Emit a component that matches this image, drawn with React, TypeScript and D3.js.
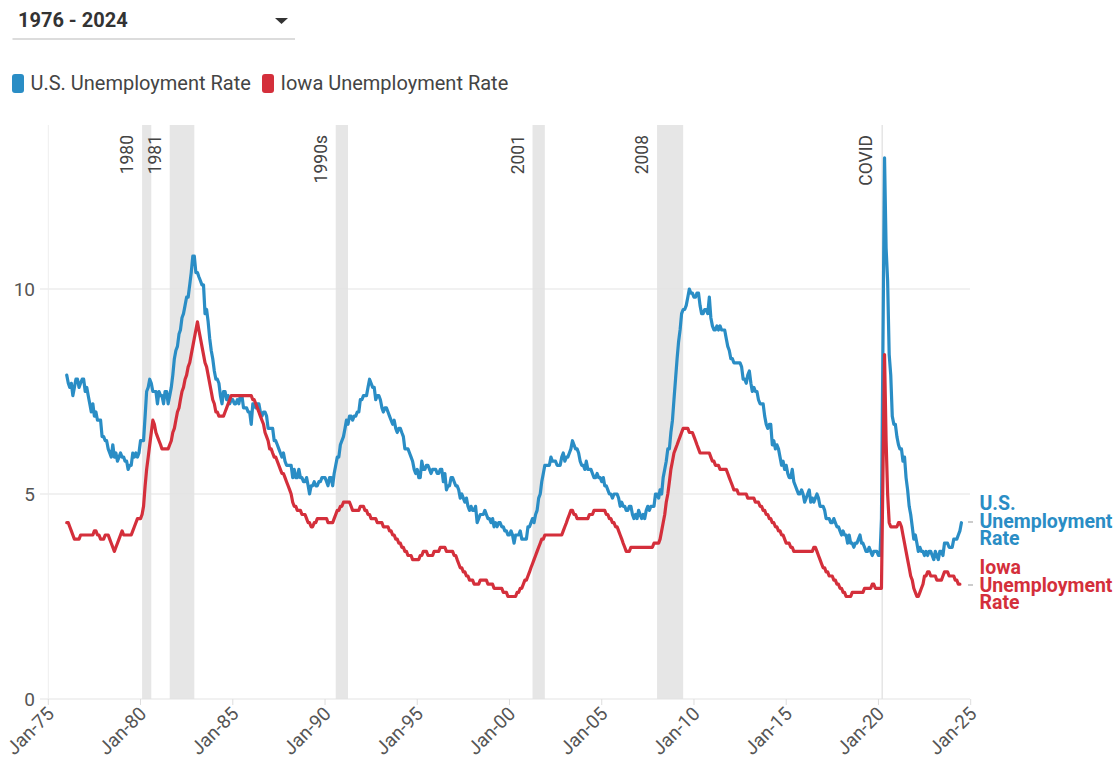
import React from 'react';
import * as d3 from 'd3';

// Monthly unemployment rates (%), one row per year starting in 1976.
// A null marks a month that is not in the series; the line bridges it.
const FIRST_YEAR = 1976;

const usRate: (number | null)[][] = [
  [7.9, 7.7, 7.6, 7.7, 7.4, 7.6, 7.8, 7.8, 7.6, 7.7, 7.8, 7.8], // 1976
  [7.5, 7.6, 7.4, 7.2, 7.0, 7.2, 6.9, 7.0, 6.8, 6.8, 6.8, 6.4],
  [6.4, 6.3, 6.3, 6.1, 6.0, 5.9, 6.2, 5.9, 6.0, 5.8, 5.9, 6.0],
  [5.9, 5.9, 5.8, 5.8, 5.6, 5.7, 5.7, 6.0, 5.9, 6.0, 5.9, 6.0],
  [6.3, 6.3, 6.3, 6.9, 7.5, 7.6, 7.8, 7.7, 7.5, 7.5, 7.5, 7.2], // 1980
  [7.5, 7.4, 7.4, 7.2, 7.5, 7.5, 7.2, 7.4, 7.6, 7.9, 8.3, 8.5],
  [8.6, 8.9, 9.0, 9.3, 9.4, 9.6, 9.8, 9.8, 10.1, 10.4, 10.8, 10.8],
  [10.4, 10.4, 10.3, 10.2, 10.1, 10.1, 9.4, 9.5, 9.2, 8.8, 8.5, 8.3],
  [8.0, 7.8, 7.8, 7.7, 7.4, 7.2, 7.5, 7.5, 7.3, 7.4, 7.2, 7.3],
  [7.3, 7.2, 7.2, 7.3, 7.2, 7.4, 7.4, 7.1, 7.1, 7.1, 7.0, 7.0], // 1985
  [6.7, 7.2, 7.2, 7.1, 7.2, 7.2, 7.0, 6.9, 7.0, 7.0, 6.9, 6.6],
  [6.6, 6.6, 6.6, 6.3, 6.3, 6.2, 6.1, 6.0, 5.9, 6.0, 5.8, 5.7],
  [5.7, 5.7, 5.7, 5.4, 5.6, 5.4, 5.4, 5.6, 5.4, 5.4, 5.3, 5.3],
  [5.4, 5.2, 5.0, 5.2, 5.2, 5.3, 5.2, 5.2, 5.3, 5.3, 5.4, 5.4],
  [5.4, 5.3, 5.2, 5.4, 5.4, 5.2, 5.5, 5.7, 5.9, 5.9, 6.2, 6.3], // 1990
  [6.4, 6.6, 6.8, 6.7, 6.9, 6.9, 6.8, 6.9, 6.9, 7.0, 7.0, 7.3],
  [7.3, 7.4, 7.4, 7.4, 7.6, 7.8, 7.7, 7.6, 7.6, 7.3, 7.4, 7.4],
  [7.3, 7.1, 7.0, 7.1, 7.1, 7.0, 6.9, 6.8, 6.7, 6.8, 6.6, 6.5],
  [6.6, 6.6, 6.5, 6.4, 6.1, 6.1, 6.1, 6.0, 5.9, 5.8, 5.6, 5.5],
  [5.6, 5.4, 5.4, 5.8, 5.6, 5.6, 5.7, 5.7, 5.6, 5.5, 5.6, 5.6], // 1995
  [5.6, 5.5, 5.5, 5.6, 5.6, 5.3, 5.5, 5.1, 5.2, 5.2, 5.4, 5.4],
  [5.3, 5.2, 5.2, 5.1, 4.9, 5.0, 4.9, 4.8, 4.9, 4.7, 4.6, 4.7],
  [4.6, 4.6, 4.7, 4.3, 4.4, 4.5, 4.5, 4.5, 4.6, 4.5, 4.4, 4.4],
  [4.3, 4.4, 4.2, 4.3, 4.2, 4.3, 4.3, 4.2, 4.2, 4.1, 4.1, 4.0],
  [4.0, 4.1, 4.0, 3.8, 4.0, 4.0, 4.0, 4.1, 3.9, 3.9, 3.9, 3.9], // 2000
  [4.2, 4.2, 4.3, 4.4, 4.3, 4.5, 4.6, 4.9, 5.0, 5.3, 5.5, 5.7],
  [5.7, 5.7, 5.7, 5.9, 5.8, 5.8, 5.8, 5.7, 5.7, 5.7, 5.9, 6.0],
  [5.8, 5.9, 5.9, 6.0, 6.1, 6.3, 6.2, 6.1, 6.1, 6.0, 5.8, 5.7],
  [5.7, 5.6, 5.8, 5.6, 5.6, 5.6, 5.5, 5.4, 5.4, 5.5, 5.4, 5.4],
  [5.3, 5.4, 5.2, 5.2, 5.1, 5.0, 5.0, 4.9, 5.0, 5.0, 5.0, 4.9], // 2005
  [4.7, 4.8, 4.7, 4.7, 4.6, 4.6, 4.7, 4.7, 4.5, 4.4, 4.5, 4.4],
  [4.6, 4.5, 4.4, 4.5, 4.4, 4.6, 4.7, 4.6, 4.7, 4.7, 4.7, 5.0],
  [5.0, 4.9, 5.1, 5.0, 5.4, 5.6, 5.8, 6.1, 6.1, 6.5, 6.8, 7.3],
  [7.8, 8.3, 8.7, 9.0, 9.4, 9.5, 9.5, 9.6, 9.8, 10.0, 9.9, 9.9],
  [9.8, 9.8, 9.9, 9.9, 9.6, 9.4, 9.4, 9.5, 9.5, 9.4, 9.8, 9.3], // 2010
  [9.1, 9.0, 9.0, 9.1, 9.0, 9.1, 9.0, 9.0, 9.0, 8.8, 8.6, 8.5],
  [8.3, 8.3, 8.2, 8.2, 8.2, 8.2, 8.2, 8.1, 7.8, 7.8, 7.7, 7.9],
  [8.0, 7.7, 7.5, 7.6, 7.5, 7.5, 7.3, 7.2, 7.2, 7.2, 6.9, 6.7],
  [6.6, 6.7, 6.7, 6.2, 6.3, 6.1, 6.2, 6.1, 5.9, 5.7, 5.8, 5.6],
  [5.7, 5.5, 5.4, 5.4, 5.6, 5.3, 5.2, 5.1, 5.0, 5.0, 5.1, 5.0], // 2015
  [4.8, 4.9, 5.0, 5.1, 4.8, 4.9, 4.8, 4.9, 5.0, 4.9, 4.7, 4.7],
  [4.7, 4.6, 4.4, 4.4, 4.4, 4.3, 4.3, 4.4, 4.3, 4.2, 4.2, 4.1],
  [4.0, 4.1, 4.0, 4.0, 3.8, 4.0, 3.8, 3.8, 3.7, 3.8, 3.8, 3.9],
  [4.0, 3.8, 3.8, 3.7, 3.6, 3.6, 3.7, 3.6, 3.5, 3.6, 3.6, 3.6],
  [3.5, 3.5, 4.4, null, 13.2, 11.0, 10.2, 8.4, 7.9, 6.9, 6.7, 6.7], // 2020
  [6.4, 6.2, 6.1, 6.1, 5.8, 5.9, 5.4, 5.1, 4.7, 4.5, 4.2, 3.9],
  [4.0, 3.8, 3.6, 3.7, 3.6, 3.6, 3.5, 3.6, 3.5, 3.6, 3.6, 3.5],
  [3.4, 3.6, 3.5, 3.4, 3.6, 3.6, 3.5, 3.8, 3.8, 3.8, 3.7, 3.7],
  [3.7, 3.9, 3.9, 3.9, 4.0, 4.1, 4.3], // 2024
];

const iowaRate: (number | null)[][] = [
  [4.3, 4.3, 4.2, 4.1, 4.0, 3.9, 3.9, 3.9, 3.9, 4.0, 4.0, 4.0], // 1976
  [4.0, 4.0, 4.0, 4.0, 4.0, 4.0, 4.1, 4.1, 4.0, 4.0, 3.9, 3.9],
  [3.9, 4.0, 4.0, 4.0, 3.9, 3.8, 3.7, 3.6, 3.7, 3.8, 3.9, 4.0],
  [4.1, 4.0, 4.0, 4.0, 4.0, 4.0, 4.0, 4.1, 4.2, 4.3, 4.4, 4.4],
  [4.4, 4.5, 4.7, 5.2, 5.6, 5.9, 6.2, 6.5, 6.8, 6.7, 6.5, 6.4], // 1980
  [6.3, 6.2, 6.1, 6.1, 6.1, 6.1, 6.1, 6.2, 6.3, 6.5, 6.6, 6.8],
  [7.0, 7.1, 7.3, 7.5, 7.6, 7.8, 7.9, 8.1, 8.2, 8.4, 8.6, 8.8],
  [9.0, 9.2, 9.0, 8.8, 8.6, 8.4, 8.2, 8.1, 7.9, 7.7, 7.5, 7.3],
  [7.2, 7.0, 7.0, 6.9, 6.9, 6.9, 6.9, 7.0, 7.1, 7.2, 7.3, 7.4],
  [7.4, 7.4, 7.4, 7.4, 7.4, 7.4, 7.4, 7.4, 7.4, 7.4, 7.4, 7.4], // 1985
  [7.4, 7.3, 7.3, 7.2, 7.1, 7.0, 6.9, 6.8, 6.7, 6.5, 6.4, 6.3],
  [6.1, 6.1, 6.0, 5.9, 5.9, 5.8, 5.7, 5.6, 5.5, 5.5, 5.4, 5.3],
  [5.2, 5.1, 5.0, 4.8, 4.7, 4.7, 4.6, 4.6, 4.6, 4.5, 4.5, 4.5],
  [4.4, 4.3, 4.3, 4.2, 4.2, 4.3, 4.3, 4.4, 4.4, 4.4, 4.4, 4.4],
  [4.4, 4.4, 4.3, 4.3, 4.3, 4.3, 4.4, 4.5, 4.6, 4.6, 4.7, 4.7], // 1990
  [4.8, 4.8, 4.8, 4.8, 4.8, 4.7, 4.6, 4.6, 4.6, 4.6, 4.6, 4.7],
  [4.7, 4.7, 4.6, 4.6, 4.5, 4.5, 4.4, 4.4, 4.4, 4.4, 4.3, 4.3],
  [4.3, 4.3, 4.2, 4.2, 4.2, 4.2, 4.1, 4.1, 4.0, 4.0, 3.9, 3.9],
  [3.8, 3.8, 3.7, 3.7, 3.6, 3.6, 3.5, 3.5, 3.5, 3.4, 3.4, 3.4],
  [3.4, 3.4, 3.5, 3.5, 3.6, 3.6, 3.6, 3.5, 3.5, 3.5, 3.5, 3.6], // 1995
  [3.6, 3.6, 3.6, 3.7, 3.7, 3.7, 3.7, 3.6, 3.6, 3.6, 3.6, 3.6],
  [3.5, 3.5, 3.4, 3.3, 3.2, 3.2, 3.1, 3.1, 3.0, 3.0, 2.9, 2.9],
  [2.9, 2.8, 2.8, 2.8, 2.8, 2.9, 2.9, 2.9, 2.9, 2.9, 2.8, 2.8],
  [2.8, 2.8, 2.7, 2.7, 2.7, 2.7, 2.7, 2.7, 2.6, 2.6, 2.6, 2.5],
  [2.5, 2.5, 2.5, 2.5, 2.5, 2.6, 2.6, 2.7, 2.7, 2.8, 2.9, 2.9], // 2000
  [3.0, 3.1, 3.2, 3.3, 3.4, 3.5, 3.6, 3.7, 3.8, 3.9, 3.9, 4.0],
  [4.0, 4.0, 4.0, 4.0, 4.0, 4.0, 4.0, 4.0, 4.0, 4.0, 4.0, 4.1],
  [4.2, 4.3, 4.4, 4.5, 4.6, 4.6, 4.5, 4.5, 4.4, 4.4, 4.4, 4.4],
  [4.4, 4.4, 4.4, 4.4, 4.5, 4.5, 4.5, 4.6, 4.6, 4.6, 4.6, 4.6],
  [4.6, 4.6, 4.6, 4.5, 4.5, 4.4, 4.4, 4.3, 4.3, 4.2, 4.2, 4.1], // 2005
  [4.0, 3.9, 3.8, 3.7, 3.6, 3.6, 3.6, 3.7, 3.7, 3.7, 3.7, 3.7],
  [3.7, 3.7, 3.7, 3.7, 3.7, 3.7, 3.7, 3.7, 3.7, 3.7, 3.8, 3.8],
  [3.8, 3.8, 3.9, 4.1, 4.3, 4.5, 4.8, 5.0, 5.3, 5.6, 5.8, 6.0],
  [6.1, 6.2, 6.3, 6.4, 6.5, 6.6, 6.6, 6.6, 6.6, 6.5, 6.5, 6.5],
  [6.4, 6.3, 6.2, 6.1, 6.0, 6.0, 6.0, 6.0, 6.0, 6.0, 6.0, 5.9], // 2010
  [5.8, 5.8, 5.7, 5.7, 5.7, 5.6, 5.6, 5.6, 5.6, 5.6, 5.5, 5.4],
  [5.3, 5.2, 5.1, 5.1, 5.1, 5.0, 5.0, 5.0, 5.0, 5.0, 5.0, 4.9],
  [4.9, 4.9, 4.9, 4.9, 4.8, 4.8, 4.8, 4.7, 4.7, 4.6, 4.6, 4.5],
  [4.5, 4.4, 4.4, 4.3, 4.3, 4.2, 4.2, 4.1, 4.1, 4.0, 4.0, 3.9],
  [3.8, 3.8, 3.8, 3.7, 3.7, 3.6, 3.6, 3.6, 3.6, 3.6, 3.6, 3.6], // 2015
  [3.6, 3.6, 3.6, 3.6, 3.6, 3.6, 3.7, 3.7, 3.6, 3.5, 3.4, 3.3],
  [3.2, 3.2, 3.1, 3.1, 3.0, 3.0, 3.0, 2.9, 2.9, 2.8, 2.8, 2.7],
  [2.7, 2.6, 2.6, 2.5, 2.5, 2.5, 2.5, 2.6, 2.6, 2.6, 2.6, 2.6],
  [2.6, 2.6, 2.6, 2.7, 2.7, 2.7, 2.7, 2.7, 2.8, 2.8, 2.7, 2.7],
  [2.7, 2.7, 2.7, null, 8.4, 6.3, 5.0, 4.3, 4.2, 4.2, 4.2, 4.2], // 2020
  [4.2, 4.3, 4.3, 4.2, 4.0, 3.8, 3.6, 3.4, 3.2, 3.0, 2.9, 2.7],
  [2.6, 2.5, 2.5, 2.6, 2.7, 2.8, 3.0, 3.0, 3.1, 3.1, 3.0, 3.0],
  [3.0, 3.0, 2.9, 2.9, 2.9, 2.9, 3.0, 3.1, 3.1, 3.1, 3.0, 3.0],
  [3.0, 3.0, 2.9, 2.9, 2.8, 2.8], // 2024
];

// Shaded recessions: label, first month, month the shading stops.
const recessionNames = ['1980', '1981', '1990s', '2001', '2008', 'COVID'];
const recessionStarts = ['1980-02', '1981-08', '1990-08', '2001-04', '2008-01', '2020-03'];
const recessionEnds = ['1980-08', '1982-12', '1991-04', '2001-12', '2009-06', '2020-04'];

const xTickYears = [1975, 1980, 1985, 1990, 1995, 2000, 2005, 2010, 2015, 2020, 2025];
const yTicks = [0, 5, 10];

const seriesNames = ['U.S. Unemployment Rate', 'Iowa Unemployment Rate'];
const seriesColors = ['#2a8dc5', '#d42f3b'];
const endLabelLines = [
  ['U.S.', 'Unemployment', 'Rate'],
  ['Iowa', 'Unemployment', 'Rate'],
];

const FONT = 'Roboto, "Noto Sans", Arial, sans-serif';

type Point = { date: Date; value: number };

function toPoints(rows: (number | null)[][]): Point[] {
  const out: Point[] = [];
  rows.forEach((row, yi) => {
    row.forEach((v, m) => {
      if (v !== null) out.push({ date: new Date(FIRST_YEAR + yi, m, 1), value: v });
    });
  });
  return out;
}

const parseMonth = d3.timeParse('%Y-%m');
const fmtTick = d3.timeFormat('Jan-%y');

export default function App() {
  const width = 1119;
  const height = 766;

  const x = d3
    .scaleTime()
    .domain([new Date(1975, 0, 1), new Date(2025, 0, 1)])
    .range([48.3, 970.7]);
  const y = d3.scaleLinear().domain([0, 14]).range([699, 125]);

  const series = [toPoints(usRate), toPoints(iowaRate)];
  const line = d3
    .line<Point>()
    .x((d) => x(d.date))
    .y((d) => y(d.value));

  const plotTop = y(14);
  const plotBottom = y(0);

  const endLabelY = [
    [510, 527.5, 545],
    [574, 591.5, 609],
  ];
  const connectorY = [522, 585];

  return (
    <svg
      width={width}
      height={height}
      style={{ position: 'absolute', left: 0, top: 0, background: '#fff' }}
      fontFamily={FONT}
    >
      {/* Period selector */}
      <text x={18} y={26.5} fontSize={20} fontWeight={700} fill="#333">
        1976 - 2024
      </text>
      <path d="M275,18 L288,18 L281.5,24 Z" fill="#333" />
      <line x1={12.5} x2={295} y1={39} y2={39} stroke="#d0d0d0" strokeWidth={1.5} />

      {/* Legend */}
      {(() => {
        const offsets = [12, 262];
        return seriesNames.map((name, i) => (
          <g key={name} transform={`translate(${offsets[i]},0)`}>
            <rect x={0} y={74} width={12} height={19} rx={3} fill={seriesColors[i]} />
            <text x={18.5} y={89.5} fontSize={20} fill="#444">
              {name}
            </text>
          </g>
        ));
      })()}

      {/* Recession shading */}
      {recessionNames.map((name, i) => {
        const x0 = x(parseMonth(recessionStarts[i]) as Date);
        const x1 = x(parseMonth(recessionEnds[i]) as Date);
        return (
          <g key={name}>
            <rect
              x={x0}
              y={plotTop}
              width={Math.max(1.5, x1 - x0)}
              height={plotBottom - plotTop}
              fill="#e6e6e6"
            />
            <text
              transform={`translate(${x0 - 9},${plotTop + 10}) rotate(-90)`}
              textAnchor="end"
              fontSize={17.5}
              fill="#444"
            >
              {name}
            </text>
          </g>
        );
      })}

      {/* Horizontal gridlines and value labels */}
      {yTicks.map((t) => (
        <g key={t}>
          <line x1={40} x2={970} y1={y(t)} y2={y(t)} stroke="#e3e3e3" strokeWidth={1} />
          <text x={35} y={y(t)} dy="0.35em" textAnchor="end" fontSize={19} fill="#555">
            {t}
          </text>
        </g>
      ))}
      <line x1={x(new Date(1975, 0, 1))} x2={x(new Date(1975, 0, 1))} y1={plotTop} y2={plotBottom} stroke="#eeeeee" />

      {/* Time axis */}
      {xTickYears.map((yr) => {
        const d = new Date(yr, 0, 1);
        const px = x(d);
        return (
          <g key={yr}>
            <line x1={px} x2={px} y1={plotBottom} y2={plotBottom + 6} stroke="#ddd" />
            <text
              transform={`translate(${px + 7},${plotBottom + 16}) rotate(-45)`}
              textAnchor="end"
              fontSize={19}
              fill="#555"
            >
              {fmtTick(d)}
            </text>
          </g>
        );
      })}

      {/* Series lines */}
      {series.map((pts, i) => (
        <path
          key={seriesNames[i]}
          d={line(pts) || ''}
          fill="none"
          stroke={seriesColors[i]}
          strokeWidth={3.2}
          strokeLinejoin="round"
          strokeLinecap="round"
        />
      ))}

      {/* Direct labels at line ends */}
      {endLabelLines.map((lines, i) => (
        <g key={i}>
          <line x1={968} x2={973} y1={connectorY[i]} y2={connectorY[i]} stroke="#bbb" strokeWidth={1.5} />
          <text x={979.5} fontSize={19.5} fontWeight={700} fill={seriesColors[i]}>
            {lines.map((t, j) => (
              <tspan key={j} x={979.5} y={endLabelY[i][j]}>
                {t}
              </tspan>
            ))}
          </text>
        </g>
      ))}
    </svg>
  );
}
